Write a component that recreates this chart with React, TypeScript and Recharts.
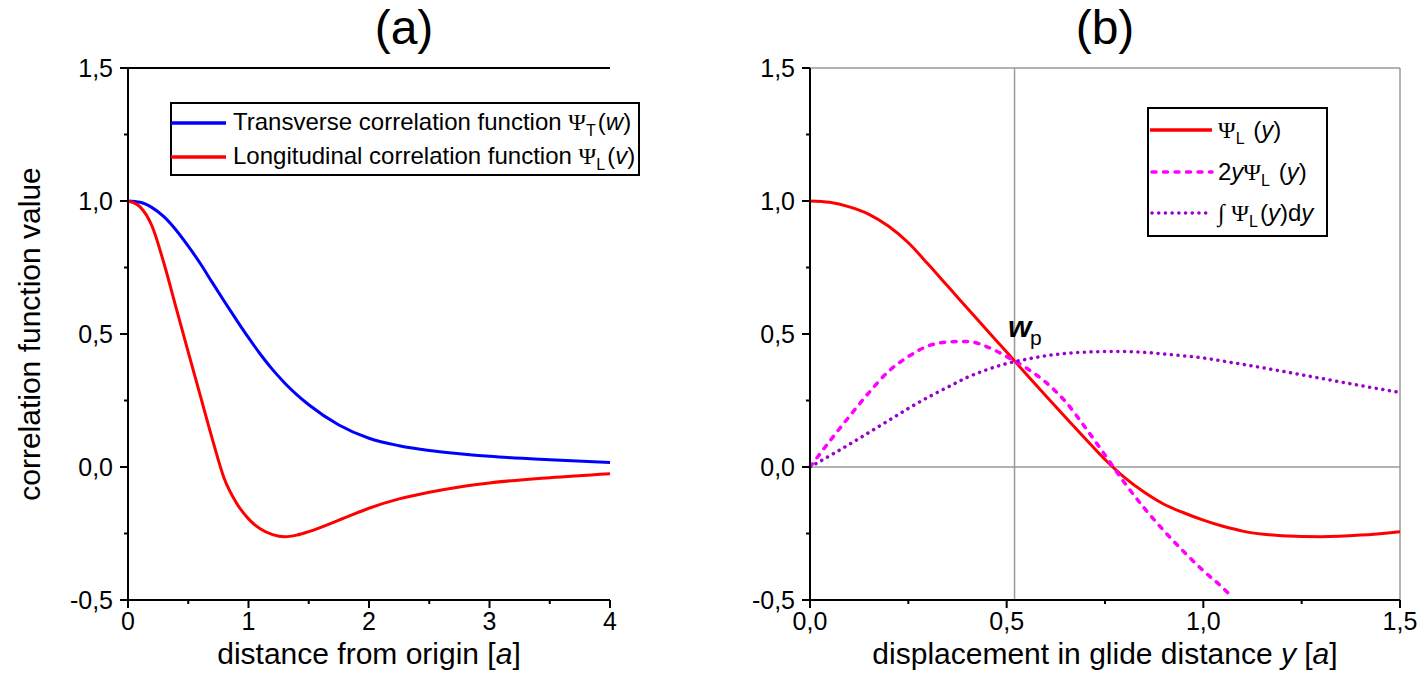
import React from 'react';
import { LineChart, Line, XAxis, YAxis, ReferenceLine } from 'recharts';

const FONT = '"Liberation Sans", Arial, Helvetica, sans-serif';
const SERIF = '"Liberation Serif", "DejaVu Serif", serif';

// (a) distance from origin [a]
const distance = [0, 0.1, 0.2, 0.3, 0.4, 0.5, 0.6, 0.7, 0.8, 0.9, 1.0, 1.1, 1.2, 1.3, 1.4, 1.5, 1.75, 2.0, 2.25, 2.5, 2.75, 3.0, 3.5, 4.0];
const psiTransverse = [1.0, 0.995, 0.975, 0.94, 0.89, 0.83, 0.765, 0.693, 0.622, 0.553, 0.486, 0.423, 0.366, 0.316, 0.272, 0.234, 0.158, 0.108, 0.08, 0.062, 0.05, 0.04, 0.027, 0.017];
const psiLongitudinal = [1.0, 0.978, 0.905, 0.763, 0.597, 0.432, 0.268, 0.105, -0.045, -0.135, -0.195, -0.233, -0.254, -0.262, -0.256, -0.243, -0.2, -0.155, -0.12, -0.095, -0.075, -0.06, -0.04, -0.025];

// (b) displacement in glide distance y [a]
const glide = [0, 0.05, 0.1, 0.15, 0.2, 0.25, 0.3, 0.35, 0.4, 0.45, 0.5, 0.55, 0.6, 0.65, 0.7, 0.75, 0.8, 0.85, 0.9, 0.95, 1.0, 1.05, 1.075, 1.1, 1.2, 1.3, 1.4, 1.5];
const psiL = [1.0, 0.995, 0.978, 0.95, 0.905, 0.843, 0.763, 0.68, 0.597, 0.514, 0.432, 0.349, 0.267, 0.186, 0.106, 0.028, -0.04, -0.095, -0.14, -0.172, -0.2, -0.223, -0.232, -0.241, -0.258, -0.262, -0.256, -0.243];
const twoYPsiL = [0, 0.097, 0.19, 0.28, 0.36, 0.415, 0.455, 0.47, 0.472, 0.452, 0.415, 0.372, 0.318, 0.245, 0.148, 0.045, -0.06, -0.155, -0.24, -0.318, -0.39, -0.455, -0.492, null, null, null, null, null];
const intPsiL = [0, 0.042, 0.085, 0.13, 0.175, 0.22, 0.262, 0.3, 0.337, 0.366, 0.389, 0.405, 0.418, 0.427, 0.432, 0.434, 0.434, 0.431, 0.425, 0.418, 0.41, 0.398, 0.392, 0.386, 0.36, 0.333, 0.306, 0.28];

const wp = 0.52;

const valueTicks = [-0.5, -0.25, 0, 0.25, 0.5, 0.75, 1, 1.25, 1.5];
const distanceTicks = [0, 0.5, 1, 1.5, 2, 2.5, 3, 3.5, 4];
const glideTicks = [0, 0.25, 0.5, 0.75, 1, 1.25, 1.5];

const dataA = distance.map((x, i) => ({ x, psiT: psiTransverse[i], psiL: psiLongitudinal[i] }));
const dataB = glide.map((y, i) => ({ y, psiL: psiL[i], twoY: twoYPsiL[i], integral: intPsiL[i] }));

const comma = (v: number) => v.toFixed(1).replace('.', ',');
const isMajor = (v: number, step: number) => Math.abs(v / step - Math.round(v / step)) < 1e-6;

const makeYTick = (step: number) => (props: any) => {
  const { x, y, payload } = props;
  const major = isMajor(payload.value, step);
  return (
    <g>
      <line x1={x} x2={x - (major ? 8 : 4)} y1={y} y2={y} stroke="#000" strokeWidth={2} />
      {major && (
        <text x={x - 15} y={y + 9} textAnchor="end" fontSize={25} fontFamily={FONT} fill="#000">
          {comma(payload.value)}
        </text>
      )}
    </g>
  );
};

const makeXTick = (step: number, format: (v: number) => string) => (props: any) => {
  const { x, y, payload } = props;
  const major = isMajor(payload.value, step);
  return (
    <g>
      <line x1={x} x2={x} y1={y} y2={y + (major ? 8 : 4)} stroke="#000" strokeWidth={2} />
      {major && (
        <text x={x} y={y + 30} textAnchor="middle" fontSize={25} fontFamily={FONT} fill="#000">
          {format(payload.value)}
        </text>
      )}
    </g>
  );
};

const axisLine = { stroke: '#000', strokeWidth: 2 };

const Sub = ({ children }: { children: string }) => (
  <>
    <tspan fontSize={16} dy={6}>{children}</tspan>
    <tspan dy={-6}>{'\u200A'}</tspan>
  </>
);

export default function App() {
  return (
    <div style={{ position: 'absolute', left: 0, top: 0, width: 1418, height: 693, background: '#fff' }}>
      <div style={{ position: 'absolute', left: 0, top: 0 }}>
        <LineChart width={640} height={693} data={dataA} margin={{ top: 68, right: 30, bottom: 0, left: 0 }}>
          <XAxis dataKey="x" type="number" domain={[0, 4]} ticks={distanceTicks} interval={0} height={93}
            tickSize={0} tickMargin={0} tickLine={false} axisLine={axisLine}
            tick={makeXTick(1, (v) => String(v))} />
          <YAxis type="number" domain={[-0.5, 1.5]} ticks={valueTicks} interval={0} width={128}
            tickSize={0} tickMargin={0} tickLine={false} axisLine={axisLine} tick={makeYTick(0.5)} />
          <ReferenceLine y={1.5} stroke="#000" strokeWidth={2} />
          <Line type="monotone" dataKey="psiT" stroke="#0000ff" strokeWidth={3} dot={false} isAnimationActive={false} />
          <Line type="monotone" dataKey="psiL" stroke="#ff0000" strokeWidth={3} dot={false} isAnimationActive={false} />
        </LineChart>
      </div>
      <div style={{ position: 'absolute', left: 700, top: 0 }}>
        <LineChart width={718} height={693} data={dataB} margin={{ top: 68, right: 18, bottom: 0, left: 0 }}>
          <XAxis dataKey="y" type="number" domain={[0, 1.5]} ticks={glideTicks} interval={0} height={93}
            tickSize={0} tickMargin={0} tickLine={false} axisLine={axisLine}
            tick={makeXTick(0.5, comma)} />
          <YAxis type="number" domain={[-0.5, 1.5]} ticks={valueTicks} interval={0} width={110}
            tickSize={0} tickMargin={0} tickLine={false} axisLine={axisLine} tick={makeYTick(0.5)} />
          <ReferenceLine y={1.5} stroke="#999" strokeWidth={1.5} />
          <ReferenceLine x={1.5} stroke="#999" strokeWidth={1.5} />
          <ReferenceLine y={0} stroke="#999" strokeWidth={1.5} />
          <ReferenceLine x={wp} stroke="#999" strokeWidth={1.5} />
          <Line type="monotone" dataKey="psiL" stroke="#ff0000" strokeWidth={3} dot={false} isAnimationActive={false} />
          <Line type="monotone" dataKey="twoY" stroke="#ff00ff" strokeWidth={3.5} strokeDasharray="4 7.5"
            strokeLinecap="round" dot={false} isAnimationActive={false} />
          <Line type="monotone" dataKey="integral" stroke="#9900cc" strokeWidth={3.5} strokeDasharray="0.1 6.6"
            strokeLinecap="round" dot={false} isAnimationActive={false} />
        </LineChart>
      </div>

      <svg width={1418} height={693} style={{ position: 'absolute', left: 0, top: 0, pointerEvents: 'none' }}
        fontFamily={FONT} fill="#000">
        <text x={404} y={44} fontSize={48} textAnchor="middle">(a)</text>
        <text x={1105} y={44} fontSize={48} textAnchor="middle">(b)</text>

        <text x={40} y={334} fontSize={30} textAnchor="middle" transform="rotate(-90 40 334)">
          correlation function value
        </text>
        <text x={369} y={664} fontSize={30} textAnchor="middle">
          distance from origin [<tspan fontStyle="italic">a</tspan>]
        </text>
        <text x={1105} y={664} fontSize={30} textAnchor="middle">
          displacement in glide distance <tspan fontStyle="italic">y</tspan> [<tspan fontStyle="italic">a</tspan>]
        </text>

        {/* w_p label */}
        <text x={1008} y={337} fontSize={30} fontStyle="italic" fontWeight="bold">w</text>
        <text x={1030} y={345} fontSize={21}>p</text>

        {/* legend (a) */}
        <rect x={171} y={103} width={468} height={72} fill="#fff" stroke="#000" strokeWidth={2} />
        <line x1={171} x2={226} y1={123} y2={123} stroke="#0000ff" strokeWidth={3.5} />
        <line x1={171} x2={226} y1={157} y2={157} stroke="#ff0000" strokeWidth={3.5} />
        <text x={233} y={130} fontSize={24}>
          Transverse correlation function <tspan fontFamily={SERIF}>Ψ</tspan><Sub>T</Sub>(<tspan fontStyle="italic">w</tspan>)
        </text>
        <text x={233} y={164} fontSize={24}>
          Longitudinal correlation function <tspan fontFamily={SERIF}>Ψ</tspan><Sub>L</Sub>(<tspan fontStyle="italic">v</tspan>)
        </text>

        {/* legend (b) */}
        <rect x={1148} y={108} width={179} height={128} fill="#fff" stroke="#000" strokeWidth={2} />
        <line x1={1150} x2={1212} y1={130} y2={130} stroke="#ff0000" strokeWidth={3.5} />
        <line x1={1152} x2={1212} y1={172} y2={172} stroke="#ff00ff" strokeWidth={3.5} strokeDasharray="4 7.5" strokeLinecap="round" />
        <line x1={1152} x2={1212} y1={213} y2={213} stroke="#9900cc" strokeWidth={3.5} strokeDasharray="0.1 6.6" strokeLinecap="round" />
        <text x={1218} y={138} fontSize={24}>
          <tspan fontFamily={SERIF}>Ψ</tspan><Sub>L</Sub> (<tspan fontStyle="italic">y</tspan>)
        </text>
        <text x={1218} y={180} fontSize={24}>
          2<tspan fontStyle="italic">y</tspan><tspan fontFamily={SERIF}>Ψ</tspan><Sub>L</Sub> (<tspan fontStyle="italic">y</tspan>)
        </text>
        <text x={1218} y={221} fontSize={24}>
          <tspan fontFamily={SERIF}>∫</tspan> <tspan fontFamily={SERIF}>Ψ</tspan><Sub>L</Sub>(<tspan fontStyle="italic">y</tspan>)d<tspan fontStyle="italic">y</tspan>
        </text>
      </svg>
    </div>
  );
}
